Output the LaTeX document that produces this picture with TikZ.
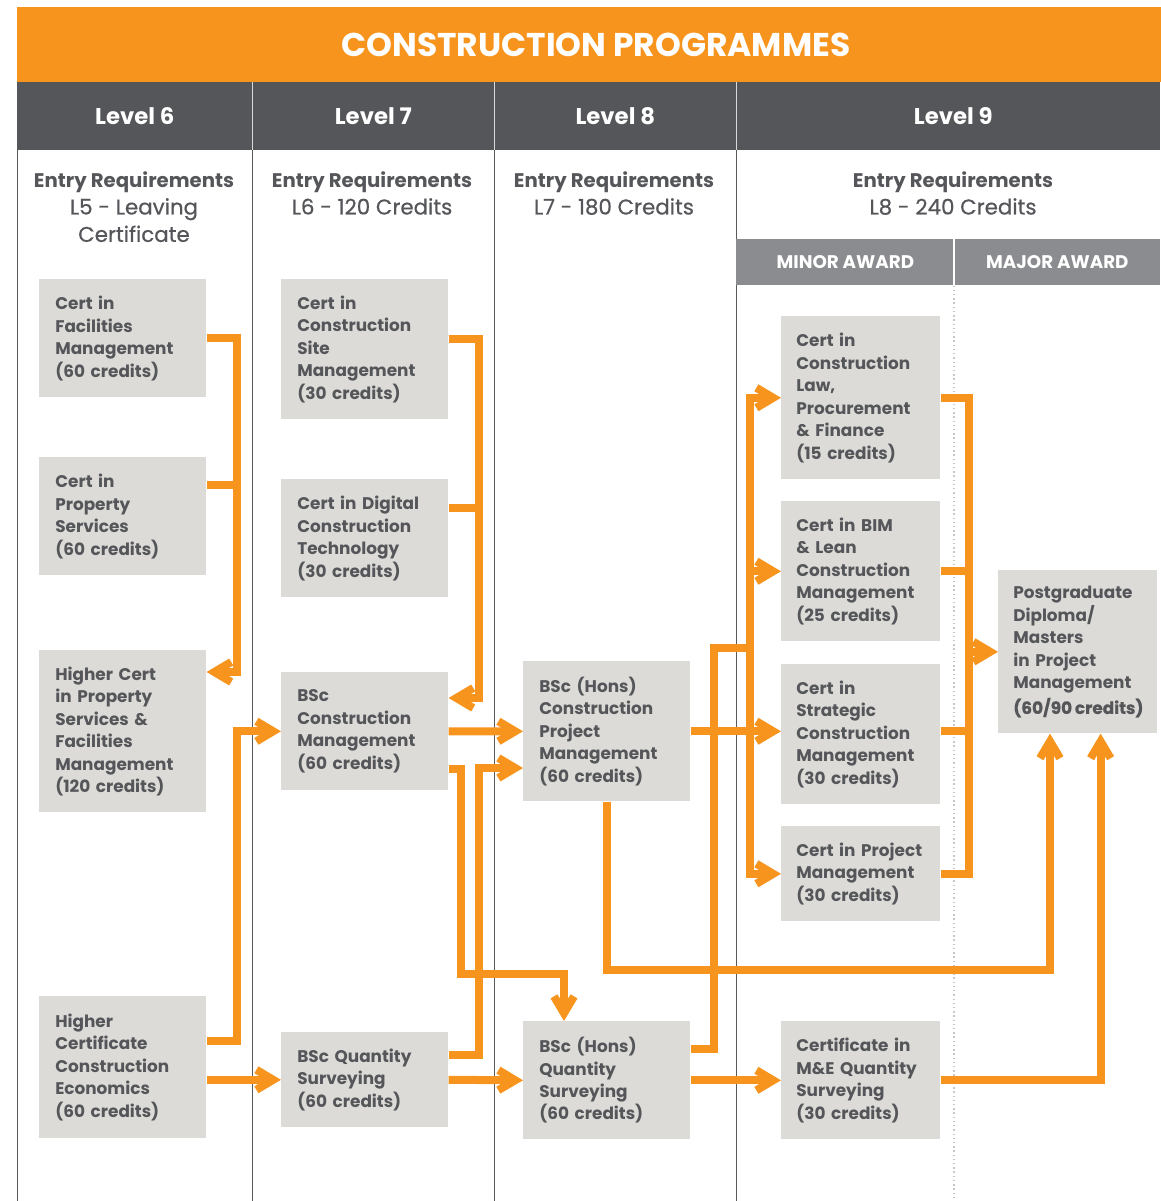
\documentclass[tikz,border=0pt]{standalone}
\usepackage{fontspec}
\setmainfont{Poppins}
\newfontfamily\medfont{Poppins}[FakeBold=0.6]
\usetikzlibrary{arrows.meta,calc}

\definecolor{progorange}{HTML}{F7941D}
\definecolor{headgrey}{HTML}{55565A}
\definecolor{awardgrey}{HTML}{8B8C8F}
\definecolor{boxgrey}{HTML}{DCDBD7}
\definecolor{textgrey}{HTML}{55565A}
\definecolor{rulegrey}{HTML}{58595B}

\tikzset{
	box/.style={fill=boxgrey, text=textgrey, anchor=north west, align=left, inner ysep=0pt, font=\bfseries\fontsize{12}{16}\selectfont},
	widebox/.style={box, inner xsep=0.4cm, minimum width=4.175cm, text width=3.375cm},
	slimbox/.style={box, inner xsep=0.375cm, minimum width=3.975cm, text width=3.225cm},
	levelcell/.style={fill=headgrey, text=white, anchor=north west, minimum height=1.7cm, inner sep=0pt, font=\bfseries\fontsize{16.2}{18}\selectfont},
	awardcell/.style={fill=awardgrey, text=white, anchor=north west, minimum height=1.15cm, inner sep=0pt, font=\bfseries\fontsize{13}{15}\selectfont},
	entry/.style={text=textgrey, anchor=north, align=center, inner sep=0pt, font=\fontsize{14}{19.5}\selectfont},
	colrule/.style={draw=rulegrey, line width=0.6pt},
	link/.style={draw=progorange, line width=0.2cm, line join=miter},
	arrow/.style={link, -{Straight Barb[length=0.42cm, width=0.5cm]}},
}

\begin{document}
\begin{tikzpicture}[x=0.025cm, y=-0.025cm]

	\useasboundingbox (0, 0) rectangle (1160, 1201);

	\node[fill=progorange, text=white, anchor=north west, minimum width=28.575cm, minimum height=1.875cm, inner sep=0pt, font=\bfseries\fontsize{23.4}{26}\selectfont] (title) at (17, 7) {\hspace*{0.35cm}CONSTRUCTION PROGRAMMES};

	\node[levelcell, minimum width=5.875cm] (l6) at (17, 82)  {Level 6};
	\node[levelcell, minimum width=6.05cm]  (l7) at (252, 82) {Level 7};
	\node[levelcell, minimum width=6.05cm]  (l8) at (494, 82) {Level 8};
	\node[levelcell, minimum width=10.6cm]  (l9) at (736, 82) {\hspace*{0.25cm}Level 9};

	\draw[white!70!gray] (l7.north west) -- (l7.south west);
	\draw[white!70!gray] (l8.north west) -- (l8.south west);
	\draw[white!70!gray] (l9.north west) -- (l9.south west);

	\draw[colrule] (17, 150) -- (17, 1201);
	\draw[colrule] (252, 150) -- (252, 1201);
	\draw[colrule] (494, 150) -- (494, 1201);
	\draw[colrule] (736, 150) -- (736, 1201);

	\node[entry] (e6) at (134, 171) {\textbf{Entry Requirements}\\{\medfont\fontsize{15.2}{19.5}\selectfont L5 - Leaving}\\{\medfont\fontsize{15.2}{19.5}\selectfont Certificate}};
	\node[entry] (e7) at (372, 171) {\textbf{Entry Requirements}\\{\medfont\fontsize{15.2}{19.5}\selectfont L6 - 120 Credits}};
	\node[entry] (e8) at (614, 171) {\textbf{Entry Requirements}\\{\medfont\fontsize{15.2}{19.5}\selectfont L7 - 180 Credits}};
	\node[entry] (e9) at (953, 171) {\textbf{Entry Requirements}\\{\medfont\fontsize{15.2}{19.5}\selectfont L8 - 240 Credits}};

	\node[awardcell, minimum width=5.45cm] (minor) at (736, 239) {MINOR AWARD};
	\node[awardcell, minimum width=5.15cm] (major) at (954, 239) {MAJOR AWARD};
	\draw[white, line width=1pt] (major.north west) -- (major.south west);
	\draw[gray!45, dotted, line width=1pt] (major.south west) -- (954, 1201);

	\node[widebox, minimum height=2.95cm]  (fm)   at (39, 279)  {Cert in\\Facilities\\Management\\(60 credits)};
	\node[widebox, minimum height=2.95cm]  (ps)   at (39, 457)  {Cert in\\Property\\Services\\(60 credits)};
	\node[widebox, minimum height=4.05cm]  (hcp)  at (39, 650)  {Higher Cert\\in Property\\Services \&\\Facilities\\Management\\(120 credits)};
	\node[widebox, minimum height=3.55cm]  (hcce) at (39, 996)  {Higher\\Certificate\\Construction\\Economics\\(60 credits)};

	\node[widebox, minimum height=3.5cm]   (csm)  at (281, 279) {Cert in\\Construction\\Site\\Management\\(30 credits)};
	\node[widebox, minimum height=2.95cm]  (dct)  at (281, 479) {Cert~in~Digital\\Construction\\Technology\\(30 credits)};
	\node[widebox, minimum height=2.95cm]  (bcm)  at (281, 672) {BSc\\Construction\\Management\\(60 credits)};
	\node[widebox, minimum height=2.375cm] (bqs)  at (281, 1032) {BSc~Quantity\\Surveying\\(60 credits)};

	\node[widebox, minimum height=3.5cm]   (bcpm) at (523, 661) {BSc (Hons)\\Construction\\Project\\Management\\(60 credits)};
	\node[widebox, minimum height=2.95cm]  (bhqs) at (523, 1021) {BSc (Hons)\\Quantity\\Surveying\\(60 credits)};

	\node[slimbox, minimum height=4.075cm] (law)  at (781, 316) {Cert in\\Construction\\Law,\\Procurement\\\& Finance\\(15 credits)};
	\node[slimbox, minimum height=3.5cm]   (bim)  at (781, 501) {Cert~in~BIM\\\& Lean\\Construction\\Management\\(25 credits)};
	\node[slimbox, minimum height=3.5cm]   (scm)  at (781, 664) {Cert in\\Strategic\\Construction\\Management\\(30 credits)};
	\node[slimbox, minimum height=2.375cm] (pm)   at (781, 826) {Cert~in~Project\\Management\\(30 credits)};
	\node[slimbox, minimum height=2.95cm]  (me)   at (781, 1021) {Certificate~in\\M\&E~Quantity\\Surveying\\(30 credits)};

	\node[slimbox, minimum height=4.075cm] (pgd)  at (998, 570) {Postgraduate\\Diploma/\\Masters\\in Project\\Management\\[2pt]{\medfont(60/90\,credits)}};

	\coordinate (bus8) at (750, 648);
	\coordinate (bus9) at (968, 650);

	\draw[arrow] (fm.east) -- ++(30, 0) |- ($(hcp.north east)+(0, 22)$);
	\draw[link]  ($(ps.north east)+(0, 28)$) -- ++(30, 0);

	\draw[arrow] ($(csm.north east)+(0, 60)$) -- ++(30, 0) |- ($(bcm.north east)+(0, 26)$);
	\draw[link]  ($(dct.north east)+(0, 29)$) -- ++(30, 0);

	\draw[arrow] ($(hcce.north east)+(0, 45)$) -- ++(30, 0) |- (bcm.west);
	\draw[arrow] (hcce.east |- bqs.west) -- (bqs.west);

	\draw[arrow] (bcm.east) -- (bcpm.west);
	\draw[arrow] ($(bcm.south east)+(0, -22)$) -- ++(12, 0) -- ++(0, 205) -| ($(bhqs.north west)+(41, 0)$);
	\draw[arrow] ($(bqs.north east)+(0, 23)$) -- ++(30, 0) |- ($(bcpm.north west)+(0, 107)$);
	\draw[arrow] (bqs.east) -- (bhqs.west);

	\draw[arrow] (bcpm.east) -- (scm.west |- bcpm.east);
	\draw[link]  ($(bhqs.north east)+(0, 28)$) -- ++(23, 0) |- (bus8);
	\draw[arrow] (bus8 |- pm.west) |- (law.west);
	\draw[arrow] (bus8 |- law.west) |- (pm.west);
	\draw[arrow] (bus8 |- bim.west) -- (bim.west);
	\draw[arrow] (bhqs.east) -- (me.west);

	\draw[link]  (law.east) -- ++(28, 0) |- (pm.east);
	\draw[link]  (bim.east) -- ++(28, 0);
	\draw[link]  (scm.east |- bcpm.east) -- ++(28, 0);
	\draw[arrow] (bus9 |- pgd.west) -- (pgd.west);

	\draw[arrow] (bcpm.south) -- ++(0, 168) -| ($(pgd.south west)+(52, 0)$);
	\draw[arrow] (me.east) -| ($(pgd.south east)+(-57, 0)$);

\end{tikzpicture}
\end{document}
